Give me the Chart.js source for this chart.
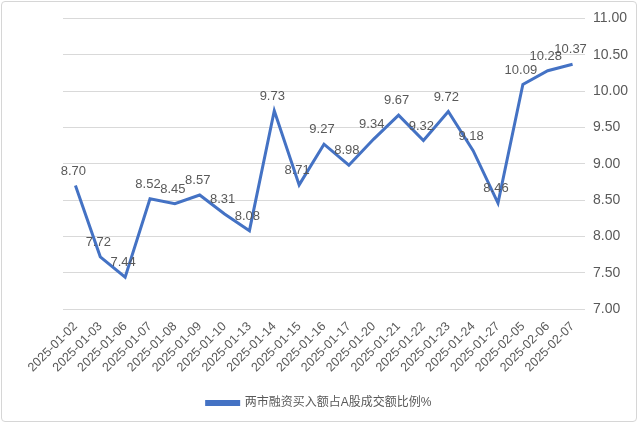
<!DOCTYPE html>
<html>
<head>
<meta charset="utf-8">
<script src="https://cdn.jsdelivr.net/npm/chart.js@4/dist/chart.umd.min.js"></script>
<style>
  html, body { margin: 0; padding: 0; background: #fff; }
  #wrap {
    position: relative; width: 636px; height: 421px; margin: 1px;
    border: 1px solid #d6d6d6; border-radius: 4px; box-sizing: border-box;
  }
</style>
</head>
<body>
<div id="wrap"><canvas id="c"></canvas></div>
<script>
const dates = ['2025-01-02', '2025-01-03', '2025-01-06', '2025-01-07', '2025-01-08', '2025-01-09',
  '2025-01-10', '2025-01-13', '2025-01-14', '2025-01-15', '2025-01-16', '2025-01-17',
  '2025-01-20', '2025-01-21', '2025-01-22', '2025-01-23', '2025-01-24', '2025-01-27',
  '2025-02-05', '2025-02-06', '2025-02-07'];
const ratio = [8.70, 7.72, 7.44, 8.52, 8.45, 8.57, 8.31, 8.08, 9.73, 8.71, 9.27,
  8.98, 9.34, 9.67, 9.32, 9.72, 9.18, 8.46, 10.09, 10.28, 10.37];
const seriesName = '两市融资买入额占A股成交额比例%';

const fontFamily = '"Liberation Sans", "Noto Sans CJK SC", sans-serif';
const textColor = '#595959';

// value labels above each point
const valueLabels = {
  id: 'valueLabels',
  afterDatasetsDraw(chart) {
    const ctx = chart.ctx;
    const meta = chart.getDatasetMeta(0);
    ctx.save();
    ctx.font = '13px ' + fontFamily;
    ctx.fillStyle = textColor;
    ctx.textAlign = 'center';
    ctx.textBaseline = 'bottom';
    meta.data.forEach((pt, i) => {
      ctx.fillText(ratio[i].toFixed(2), pt.x - 2, pt.y - 8);
    });
    ctx.restore();
  }
};

new Chart(document.getElementById('c'), {
  type: 'line',
  data: {
    labels: dates,
    datasets: [{
      label: seriesName,
      data: ratio,
      borderColor: '#4472C4',
      backgroundColor: '#4472C4',
      borderWidth: 3,
      pointRadius: 0,
      tension: 0
    }]
  },
  options: {
    responsive: true,
    maintainAspectRatio: false,
    animation: false,
    layout: { padding: { left: 0, right: 0, top: 6, bottom: 2 } },
    plugins: {
      legend: {
        position: 'bottom',
        labels: {
          color: textColor,
          font: { size: 12, family: fontFamily },
          boxWidth: 32,
          boxHeight: 3,
          padding: 12
        }
      },
      tooltip: { enabled: false }
    },
    scales: {
      x: {
        offset: true,
        afterFit: s => { s.paddingLeft = 61; },
        grid: { display: false, drawTicks: false },
        border: { display: false },
        ticks: {
          color: textColor,
          font: { size: 12.5, family: fontFamily },
          maxRotation: 45,
          minRotation: 45,
          autoSkip: false,
          padding: 10
        }
      },
      y: {
        position: 'right',
        min: 7,
        max: 11,
        afterFit: s => { s.width = 51; },
        grid: { color: '#d9d9d9', lineWidth: 1, drawTicks: false },
        border: { display: false },
        ticks: {
          stepSize: 0.5,
          color: textColor,
          font: { size: 14, family: fontFamily },
          padding: 8,
          callback: v => v.toFixed(2)
        }
      }
    }
  },
  plugins: [valueLabels]
});
</script>
</body>
</html>
